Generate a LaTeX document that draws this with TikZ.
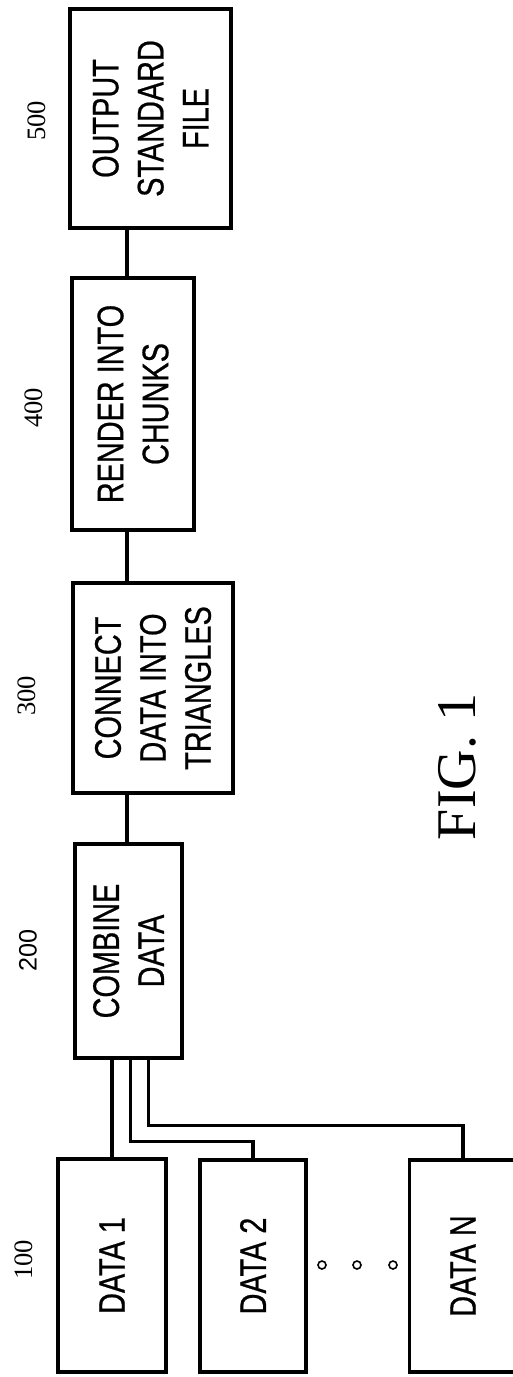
\documentclass[tikz,border=0pt]{standalone}
\usepackage{fontspec}
\setmainfont{Liberation Serif}
\setsansfont{Liberation Sans}
\newfontfamily\boxfont[FakeStretch=0.78, FakeBold=0.6]{Liberation Sans}
\usepackage{tikz}
\usetikzlibrary{positioning}

\begin{document}
\begin{tikzpicture}[x=0.5pt, y=-0.5pt,
  blk/.style={draw, line width=1.6pt, rotate=90, align=center, inner sep=0pt,
    font=\boxfont\fontsize{18.5}{22.5}\selectfont},
  refnum/.style={rotate=90, font=\fontsize{13.3}{15}\selectfont},
  wire/.style={line width=1.6pt},
  dot/.style={circle, draw, line width=0.8pt, minimum size=4pt, inner sep=0pt}]
  \useasboundingbox (0,0) rectangle (513,1377);
  % process chain
  \node[blk, minimum width=109.5pt, minimum height=80.5pt] (out) at (150.5,118.5) {OUTPUT\\STANDARD\\FILE};
  \node[blk, minimum width=126pt, minimum height=61pt] (render) at (133,404) {RENDER INTO\\CHUNKS};
  \node[blk, minimum width=105pt, minimum height=80pt] (conn) at (153,688) {CONNECT\\DATA INTO\\TRIANGLES};
  \node[blk, minimum width=107pt, minimum height=53.5pt] (comb) at (128.5,951) {COMBINE\\DATA};
  % data sources
  \node[blk, minimum width=106.5pt, minimum height=54pt] (d1) at (112,1265.5) {DATA 1};
  \node[blk, minimum width=106pt, minimum height=53pt] (d2) at (253,1266) {DATA 2};
  \node[blk, minimum width=106pt, minimum height=53.5pt] (dn) at (463,1266) {DATA N};
  \foreach \x [count=\i] in {322,357,393}
    \node[dot] (dot\i) at (\x,1265) {};
  % reference numerals
  \node[refnum] (n100) at (24,1260) {100};
  \node[refnum, font=\sffamily\fontsize{12.6}{14}\selectfont] (n200) at (28,950) {200};
  \node[refnum] (n300) at (27,696) {300};
  \node[refnum] (n400) at (34,408) {400};
  \node[refnum] (n500) at (37,121) {500};
  \node[rotate=90, font=\fontsize{28}{30}\selectfont] (fig) at (457,767) {FIG. 1};
  % connections
  \coordinate (spine) at (127,0);
  \draw[wire] (spine |- out.west) -- (spine |- render.east);
  \draw[wire] (spine |- render.west) -- (spine |- conn.east);
  \draw[wire] (spine |- conn.west) -- (spine |- comb.east);
  \draw[wire] (d1.east) -- (d1.east |- comb.west);
  \draw[wire] (d2.east) -- ++(0,-17) -| ([xshift=1pt]comb.west);
  \draw[wire] (dn.east) -- ++(0,-33) -| ([xshift=10pt]comb.west);
\end{tikzpicture}
\end{document}
